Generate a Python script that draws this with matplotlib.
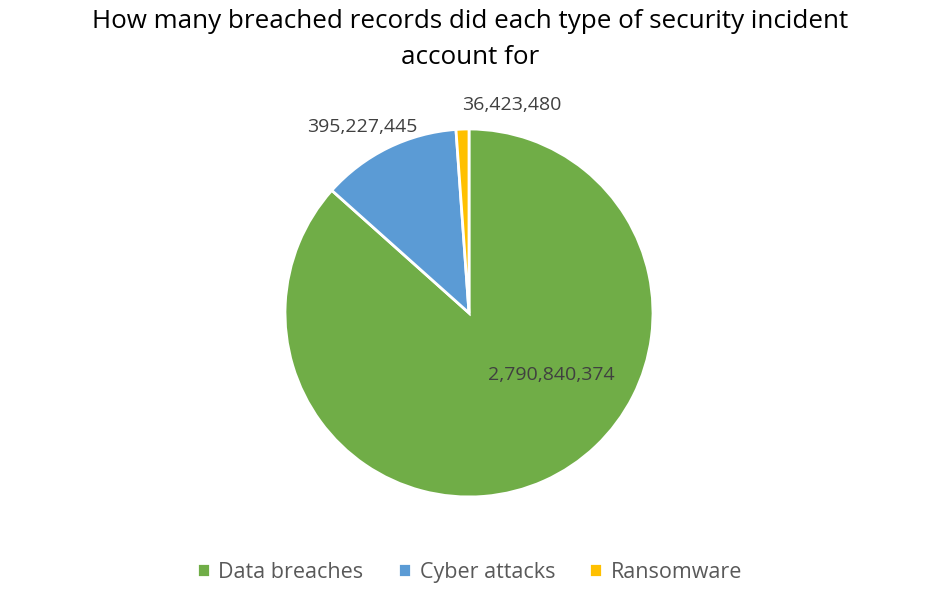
import matplotlib.pyplot as plt

# data
categories = ['Data breaches', 'Cyber attacks', 'Ransomware']
records = [2790840374, 395227445, 36423480]
colors = ['#70AD47', '#5B9BD5', '#FFC000']

plt.rcParams['font.family'] = ['Open Sans', 'DejaVu Sans']

fig = plt.figure(figsize=(9.45, 5.93), dpi=100)
fig.text(0.497, 0.985, 'How many breached records did each type of security incident\naccount for',
         ha='center', va='top', fontsize=18.7, color='black', linespacing=1.6)

ax = fig.add_axes([0.3016, 0.1619, 0.3894, 0.6206])
wedges, _ = ax.pie(records, colors=colors, startangle=90, counterclock=False,
                   wedgeprops=dict(edgecolor='white', linewidth=2))
ax.set_xlim(-1, 1)
ax.set_ylim(-1, 1)
ax.set_aspect('equal')

label_pos = [(0.445, -0.335), (-0.58, 1.01), (0.23, 1.13)]
for val, (x, y) in zip(records, label_pos):
    ax.text(x, y, f'{val:,}', ha='center', va='center', fontsize=14,
            color='#404040', clip_on=False)

fig.legend(wedges, categories, loc='center', bbox_to_anchor=(0.497, 0.035),
           ncol=3, frameon=False, fontsize=15.5, labelcolor='#595959',
           handlelength=0.6, handleheight=0.6, handletextpad=0.4, columnspacing=1.6)

fig.savefig('out.png', dpi=100)
